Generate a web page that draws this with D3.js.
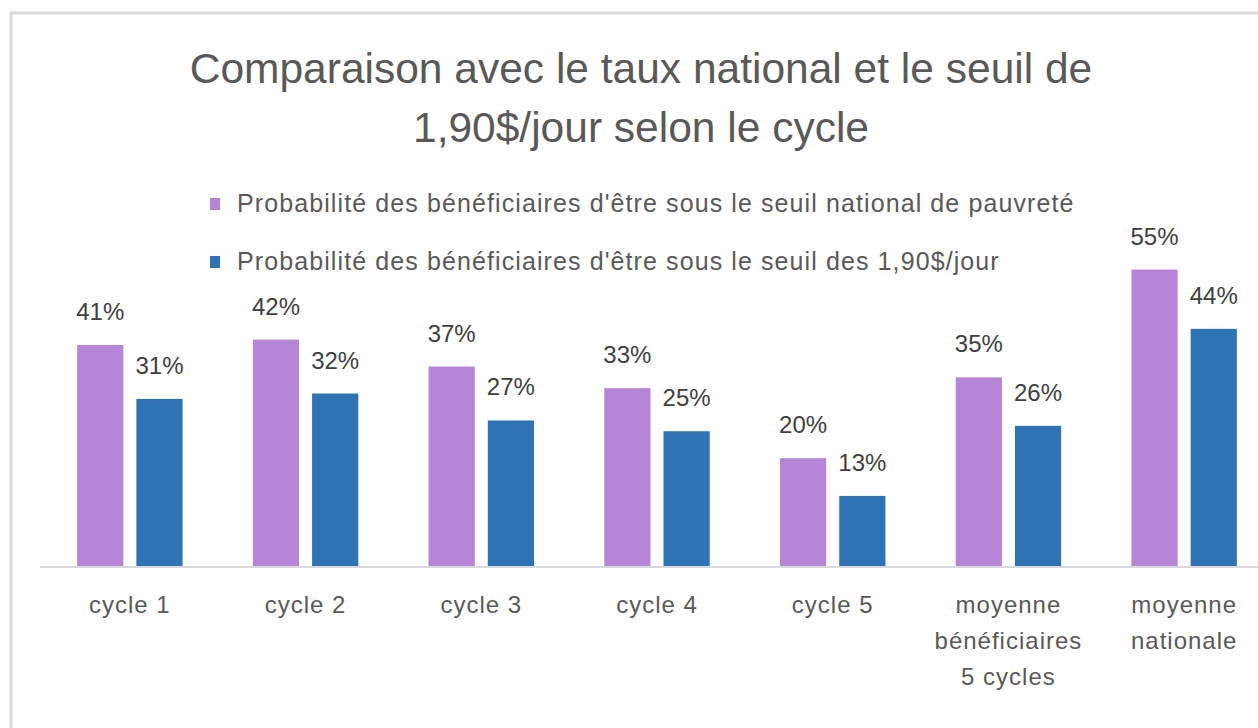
<!DOCTYPE html>
<html lang="fr">
<head>
  <meta charset="UTF-8">
  <title>Comparaison avec le taux national</title>
  <style>
    html, body { margin: 0; padding: 0; background: #fff; }
    svg text { font-family: "Liberation Sans", Arial, sans-serif; }
  </style>
</head>
<body>
    <script src="https://cdn.jsdelivr.net/npm/d3@7"></script>
    <script>
      // données
      const categories = ["cycle 1", "cycle 2", "cycle 3", "cycle 4", "cycle 5",
        "moyenne bénéficiaires 5 cycles", "moyenne nationale"]
      const categoryLines = [["cycle 1"], ["cycle 2"], ["cycle 3"], ["cycle 4"], ["cycle 5"],
        ["moyenne", "bénéficiaires", "5 cycles"], ["moyenne", "nationale"]]
      const seriesNames = ["Probabilité des bénéficiaires d'être sous le seuil national de pauvreté",
        "Probabilité des bénéficiaires d'être sous le seuil des 1,90$/jour"]
      const seuilNational = [0.41, 0.42, 0.37, 0.33, 0.20, 0.35, 0.55]
      const seuil190 = [0.31, 0.32, 0.27, 0.25, 0.13, 0.26, 0.44]
      const colors = ["#b585d8", "#2e74b5"]
      const titleLines = ["Comparaison avec le taux national et le seuil de",
        "1,90$/jour selon le cycle"]

      const width = 1258, height = 728
      const baseY = 566

      const svg = d3.select("body").append("svg")
        .attr("width", width)
        .attr("height", height)

      // cadre du graphique (coupé à droite et en bas)
      svg.append("rect")
        .attr("x", 11).attr("y", 13)
        .attr("width", 1400).attr("height", 900)
        .attr("fill", "none")
        .attr("stroke", "#d9d9d9")
        .attr("stroke-width", 3)

      const x0 = d3.scaleBand()
        .domain(categories)
        .range([42, 1272])
        .paddingInner(0.4)
        .paddingOuter(0.2)

      const x1 = d3.scaleBand()
        .domain([0, 1])
        .range([0, x0.bandwidth()])
        .paddingInner(0.22)

      const y = d3.scaleLinear()
        .domain([0, 0.6])
        .range([baseY, baseY - 0.6 * 539])

      const rows = categories.map((c, i) => ({
        cat: c, lines: categoryLines[i],
        vals: [seuilNational[i], seuil190[i]]
      }))

      // titre
      svg.append("g").selectAll("text")
        .data(titleLines)
        .enter().append("text")
        .attr("x", 641)
        .attr("y", (d, i) => 83 + i * 59)
        .attr("text-anchor", "middle")
        .attr("font-size", 42.5)
        .attr("fill", "#595959")
        .text(d => d)

      // légende
      const leg = svg.append("g").selectAll("g")
        .data(seriesNames)
        .enter().append("g")
        .attr("transform", (d, i) => "translate(0," + (212 + i * 58) + ")")
      leg.append("rect")
        .attr("x", 210).attr("y", -14)
        .attr("width", 10).attr("height", 12)
        .attr("fill", (d, i) => colors[i])
      leg.append("text")
        .attr("x", 237)
        .attr("font-size", 25)
        .attr("letter-spacing", 1.1)
        .attr("fill", "#595959")
        .text(d => d)

      // barres
      const g = svg.append("g").selectAll("g")
        .data(rows)
        .enter().append("g")
        .attr("transform", d => "translate(" + x0(d.cat) + ",0)")

      g.selectAll("rect")
        .data(d => d.vals)
        .enter().append("rect")
        .attr("x", (d, i) => x1(i))
        .attr("width", x1.bandwidth())
        .attr("y", d => y(d))
        .attr("height", d => baseY - y(d))
        .attr("fill", (d, i) => colors[i])

      g.selectAll("text.val")
        .data(d => d.vals)
        .enter().append("text")
        .attr("class", "val")
        .attr("x", (d, i) => x1(i) + x1.bandwidth() / 2)
        .attr("y", d => y(d) - 25)
        .attr("text-anchor", "middle")
        .attr("font-size", 24)
        .attr("fill", "#404040")
        .text(d => d3.format(".0%")(d))

      // axe horizontal
      svg.append("line")
        .attr("x1", 40).attr("x2", 1272)
        .attr("y1", baseY + 1).attr("y2", baseY + 1)
        .attr("stroke", "#d9d9d9")
        .attr("stroke-width", 2)

      // étiquettes des catégories
      g.selectAll("text.cat")
        .data(d => d.lines)
        .enter().append("text")
        .attr("class", "cat")
        .attr("x", x0.bandwidth() / 2)
        .attr("y", (d, i) => 613 + i * 36)
        .attr("text-anchor", "middle")
        .attr("font-size", 24)
        .attr("letter-spacing", 1)
        .attr("fill", "#595959")
        .text(d => d)
    </script>
</body>
</html>
